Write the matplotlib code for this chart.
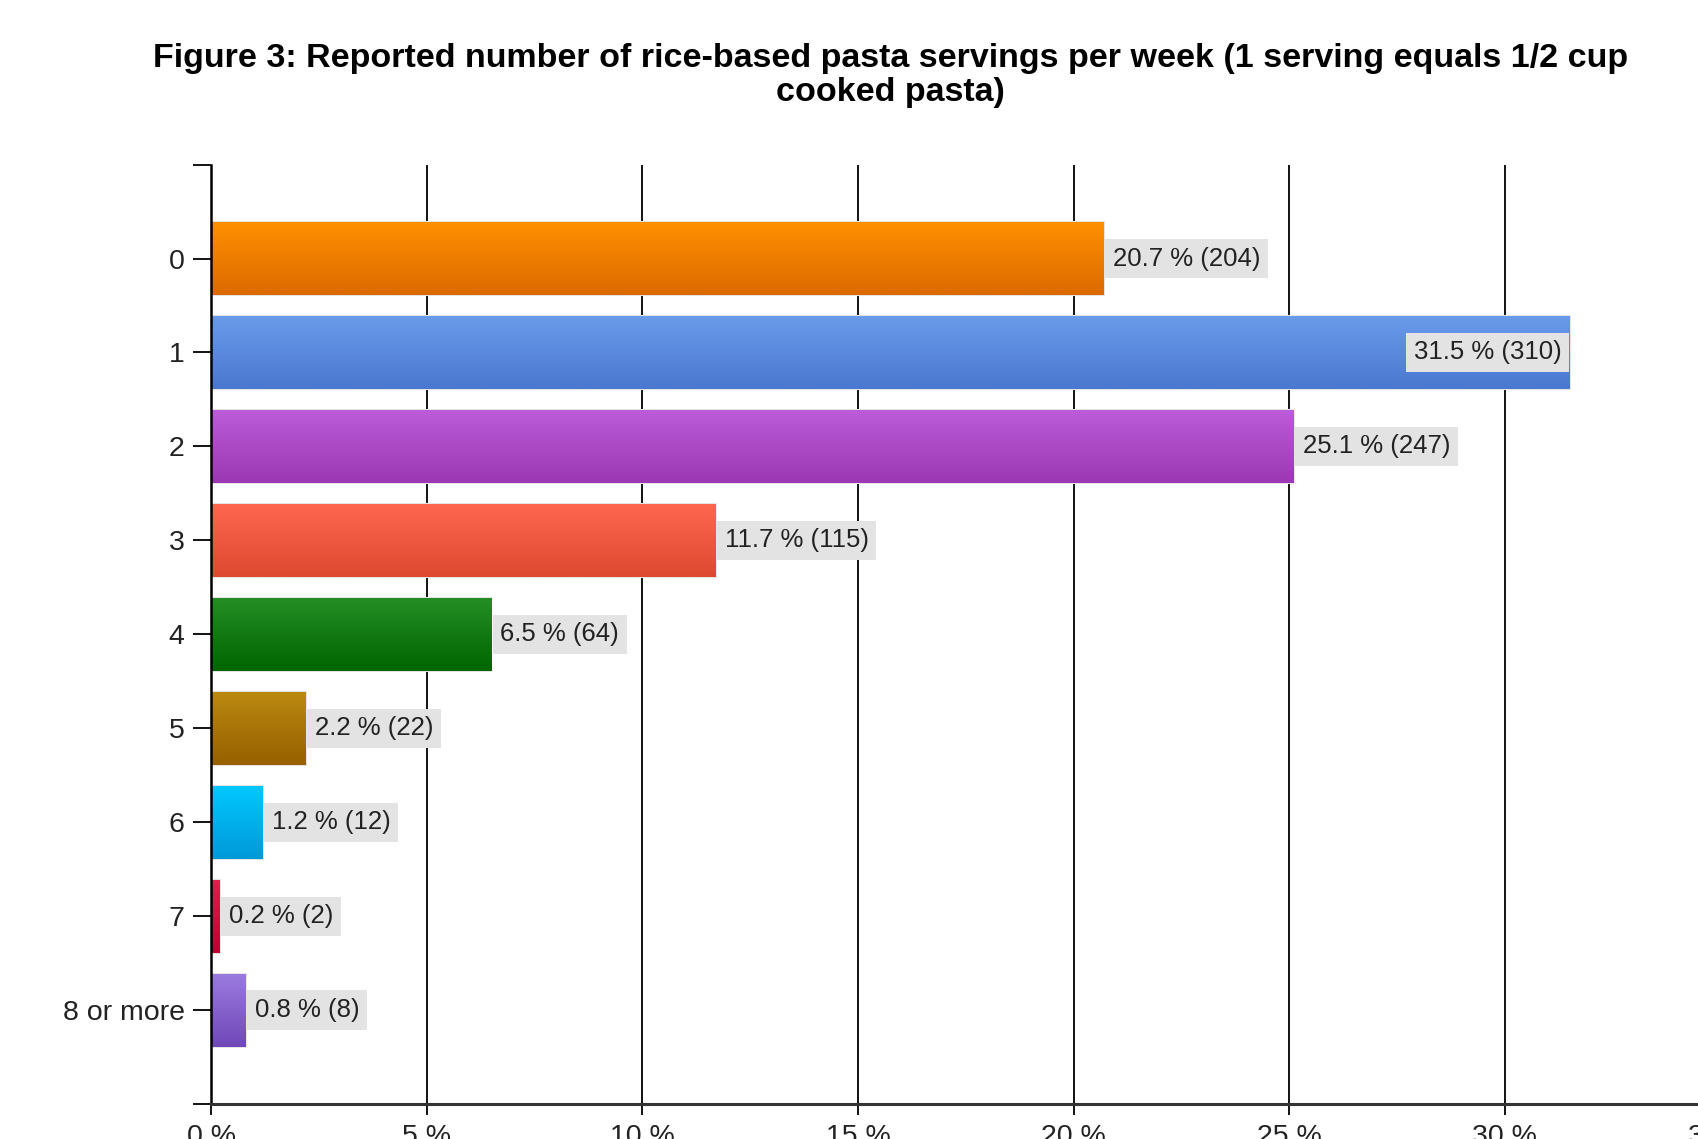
import matplotlib.pyplot as plt
import numpy as np
import matplotlib.colors as mcolors

categories = ['0', '1', '2', '3', '4', '5', '6', '7', '8 or more']
percents = [20.7, 31.5, 25.1, 11.7, 6.5, 2.2, 1.2, 0.2, 0.8]
counts = [204, 310, 247, 115, 64, 22, 12, 2, 8]

# top / bottom colour of each gradient bar
top_colors = ['#ff9000', '#6a9bea', '#bc5cd8', '#ff6650', '#258e25',
              '#bb8a10', '#00c8ff', '#e0204a', '#9b7be0']
bottom_colors = ['#dc6a00', '#4a78d0', '#9c38b4', '#dd4a30', '#006600',
                 '#966000', '#0099d8', '#c00030', '#7048b8']

x_ticks = [0, 5, 10, 15, 20, 25, 30, 35]
title = ('Figure 3: Reported number of rice-based pasta servings per week '
         '(1 serving equals 1/2 cup\ncooked pasta)')

plt.rcParams['font.family'] = ['Liberation Sans', 'DejaVu Sans']

fig = plt.figure(figsize=(16.99, 11.39), dpi=100)
ax = fig.add_axes([0.1242, 0.0306, 0.8885, 0.8249])

y = np.arange(len(categories))
bars = ax.barh(y, percents, height=0.78, color=top_colors,
               edgecolor='#e4e4e4', linewidth=1.5, zorder=2)

# gradient fill clipped to each bar
for bar, c1, c2 in zip(bars, top_colors, bottom_colors):
    cmap = mcolors.LinearSegmentedColormap.from_list('g', [c1, c2])
    grad = np.linspace(0, 1, 64).reshape(-1, 1)
    x0, y0 = bar.get_x(), bar.get_y()
    w, h = bar.get_width(), bar.get_height()
    im = ax.imshow(grad, cmap=cmap, aspect='auto', origin='upper',
                   extent=(x0, x0 + w, y0 + h, y0), zorder=2.5)
    im.set_clip_path(bar)

# value labels
for yi, p, n in zip(y, percents, counts):
    label = f'{p} % ({n})'
    box = dict(boxstyle='square,pad=0.3', fc='#e3e3e3', ec='none')
    if p > 30:
        ax.annotate(label, (p, yi), xytext=(-6, 0), textcoords='offset points',
                    ha='right', va='center', fontsize=18.5, color='#222222',
                    bbox=box, zorder=4)
    else:
        ax.annotate(label, (p, yi), xytext=(6.5, 0), textcoords='offset points',
                    ha='left', va='center', fontsize=18.5, color='#222222',
                    bbox=box, zorder=4)

ax.set_xlim(0, 35)
ax.set_ylim(len(categories), -1)
ax.set_xticks(x_ticks)
ax.set_xticklabels([f'{t} %' for t in x_ticks])
ax.set_yticks(y)
ax.set_yticklabels(categories)
ax.set_yticks([-1, len(categories)], minor=True)

ax.grid(axis='x', color='black', linewidth=1.3, zorder=1)
ax.set_axisbelow(True)

for s in ['top', 'right']:
    ax.spines[s].set_visible(False)
ax.spines['left'].set_linewidth(1.8)
ax.spines['bottom'].set_linewidth(2.2)
ax.spines['bottom'].set_color('#333333')

ax.tick_params(axis='y', which='both', length=13, width=1.3, pad=6,
               labelsize=20.5, labelcolor='#222222')
ax.tick_params(axis='x', length=8, width=1.3, pad=6, labelsize=20.5,
               labelcolor='#222222')

fig.text(0.524, 0.962, title, ha='center', va='top', fontsize=24.5,
         fontweight='bold', linespacing=1.12)

fig.savefig('out.png', dpi=100)
